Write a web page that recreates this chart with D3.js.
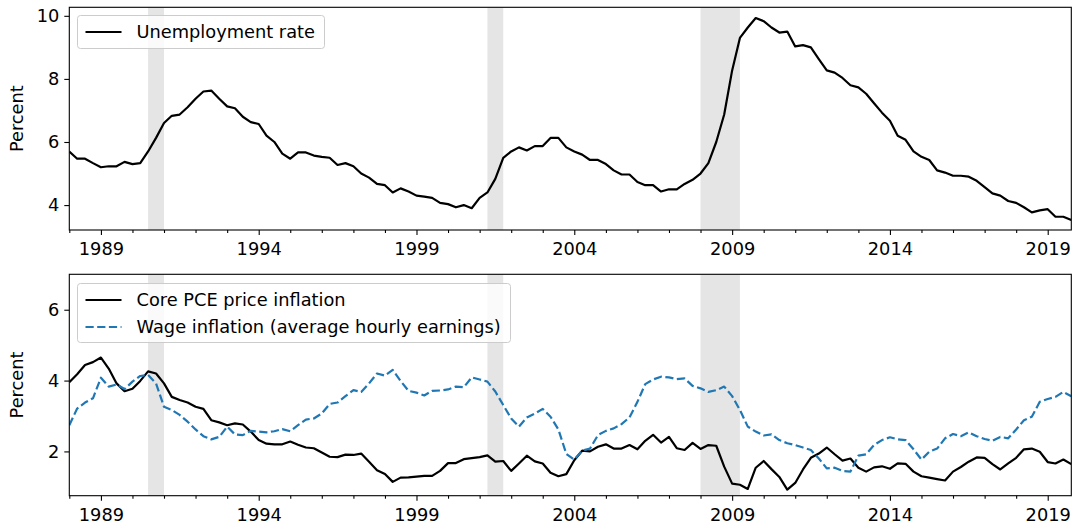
<!DOCTYPE html>
<html>
<head>
<meta charset="utf-8">
<script src="https://cdn.jsdelivr.net/npm/d3@7"></script>
<style>
  body { margin: 0; background: #fff; }
  svg { display: block; font-family: "DejaVu Sans", sans-serif; }
</style>
</head>
<body>
<svg id="chart" width="1076" height="529"></svg>
<script>
// quarterly data, 1988Q1 .. 2019Q4
var startYear = 1988;

var unemployment = [
  5.70, 5.47, 5.47, 5.33, 5.20, 5.23, 5.23, 5.37, 5.30, 5.33, 5.70, 6.13,
  6.60, 6.83, 6.87, 7.10, 7.37, 7.60, 7.63, 7.37, 7.13, 7.07, 6.80, 6.63,
  6.57, 6.20, 6.00, 5.63, 5.47, 5.67, 5.67, 5.57, 5.53, 5.50, 5.27, 5.33,
  5.23, 5.00, 4.87, 4.67, 4.63, 4.40, 4.53, 4.43, 4.30, 4.27, 4.23, 4.07,
  4.03, 3.93, 4.00, 3.90, 4.23, 4.40, 4.83, 5.50, 5.70, 5.83, 5.73, 5.87,
  5.87, 6.13, 6.13, 5.83, 5.70, 5.60, 5.43, 5.43, 5.30, 5.10, 4.97, 4.97,
  4.73, 4.63, 4.63, 4.43, 4.50, 4.50, 4.67, 4.80, 5.00, 5.33, 6.00, 6.87,
  8.27, 9.30, 9.63, 9.93, 9.83, 9.63, 9.47, 9.50, 9.03, 9.07, 9.00, 8.63,
  8.27, 8.20, 8.03, 7.80, 7.73, 7.53, 7.23, 6.93, 6.67, 6.20, 6.07, 5.70,
  5.53, 5.43, 5.10, 5.03, 4.93, 4.93, 4.90, 4.77, 4.57, 4.37, 4.30, 4.13,
  4.07, 3.93, 3.77, 3.83, 3.87, 3.63, 3.63, 3.53
];

var corePCE = [
  3.95, 4.18, 4.44, 4.52, 4.65, 4.34, 3.92, 3.70, 3.77, 3.99, 4.26, 4.20,
  3.92, 3.54, 3.45, 3.38, 3.26, 3.20, 2.88, 2.82, 2.74, 2.79, 2.76, 2.56,
  2.32, 2.22, 2.20, 2.20, 2.28, 2.19, 2.11, 2.09, 1.97, 1.85, 1.84, 1.91,
  1.90, 1.94, 1.71, 1.47, 1.36, 1.14, 1.26, 1.27, 1.29, 1.31, 1.31, 1.45,
  1.67, 1.67, 1.78, 1.81, 1.84, 1.89, 1.71, 1.73, 1.45, 1.66, 1.88, 1.72,
  1.66, 1.40, 1.30, 1.36, 1.75, 2.02, 2.00, 2.13, 2.20, 2.08, 2.08, 2.18,
  2.06, 2.30, 2.47, 2.25, 2.41, 2.09, 2.04, 2.24, 2.07, 2.18, 2.16, 1.57,
  1.09, 1.06, 0.94, 1.54, 1.73, 1.50, 1.28, 0.92, 1.11, 1.49, 1.82, 1.94,
  2.11, 1.92, 1.74, 1.80, 1.54, 1.43, 1.55, 1.58, 1.51, 1.66, 1.65, 1.43,
  1.30, 1.26, 1.22, 1.18, 1.43, 1.56, 1.71, 1.83, 1.82, 1.64, 1.49, 1.66,
  1.82, 2.06, 2.08, 1.99, 1.70, 1.66, 1.77, 1.64
];

var wages = [
  2.74, 3.21, 3.38, 3.50, 4.08, 3.83, 3.89, 3.76, 3.97, 4.13, 4.16, 3.92,
  3.26, 3.17, 3.03, 2.84, 2.62, 2.43, 2.34, 2.41, 2.70, 2.48, 2.46, 2.58,
  2.56, 2.54, 2.57, 2.63, 2.57, 2.74, 2.90, 2.93, 3.07, 3.34, 3.38, 3.56,
  3.73, 3.68, 3.92, 4.20, 4.14, 4.30, 3.99, 3.71, 3.66, 3.58, 3.71, 3.72,
  3.75, 3.83, 3.81, 4.09, 4.03, 3.97, 3.69, 3.31, 2.93, 2.70, 2.96, 3.07,
  3.20, 2.98, 2.62, 1.93, 1.77, 2.02, 2.08, 2.46, 2.58, 2.65, 2.77, 2.96,
  3.40, 3.90, 4.03, 4.11, 4.09, 4.04, 4.06, 3.85, 3.78, 3.68, 3.73, 3.83,
  3.56, 3.17, 2.70, 2.56, 2.45, 2.48, 2.32, 2.23, 2.18, 2.11, 2.04, 1.80,
  1.52, 1.54, 1.45, 1.43, 1.88, 1.92, 2.18, 2.32, 2.40, 2.34, 2.32, 2.06,
  1.77, 1.99, 2.08, 2.37, 2.49, 2.43, 2.54, 2.43, 2.35, 2.30, 2.41, 2.37,
  2.62, 2.88, 2.98, 3.40, 3.48, 3.54, 3.68, 3.56
];

var recessionStart = ["1990-07-01", "2001-04-01", "2008-01-01"];
var recessionEnd   = ["1991-01-01", "2001-10-01", "2009-04-01"];

var xTickYears = [1989, 1994, 1999, 2004, 2009, 2014, 2019];
var topTicks = [4, 6, 8, 10];
var bottomTicks = [2, 4, 6];

var quarters = unemployment.map(function(d, i){
  return new Date(startYear + Math.floor(i / 4), (i % 4) * 3, 1);
});

var parse = d3.timeParse("%Y-%m-%d");
var svg = d3.select("#chart");

var left = 69.3, right = 1071.3;
var fontSize = "17.8px";

var x = d3.scaleTime()
  .domain([new Date(1988, 0, 1), new Date(2019, 9, 1)])
  .range([left, right]);

function panel(top, bottom, yDomain, yTicks, series, legendBox, id){

  var y = d3.scaleLinear().domain(yDomain).range([bottom, top]);

  var g = svg.append("g");

  g.append("clipPath").attr("id", id)
    .append("rect")
      .attr("x", left).attr("y", top)
      .attr("width", right - left).attr("height", bottom - top);

  var plot = g.append("g").attr("clip-path", "url(#" + id + ")");

  plot.selectAll("rect.rec")
    .data(recessionStart)
    .enter().append("rect")
      .attr("class", "rec")
      .attr("x", function(d){ return x(parse(d)); })
      .attr("width", function(d, i){ return x(parse(recessionEnd[i])) - x(parse(d)); })
      .attr("y", top)
      .attr("height", bottom - top)
      .style("fill", "#e5e5e5");

  series.forEach(function(s){
    var line = d3.line()
      .x(function(d, i){ return x(quarters[i]); })
      .y(function(d){ return y(d); });

    plot.append("path")
      .datum(s.values)
      .attr("d", line)
      .style("fill", "none")
      .style("stroke", s.color)
      .style("stroke-width", 2.2)
      .style("stroke-dasharray", s.dash || null)
      .style("stroke-linejoin", "round");
  });

  // axes
  var xAxis = d3.axisBottom(x)
    .tickValues(xTickYears.map(function(yr){ return new Date(yr, 0, 1); }))
    .tickFormat(d3.timeFormat("%Y"))
    .tickSize(5)
    .tickPadding(6);

  var xMinor = d3.axisBottom(x)
    .tickValues(d3.range(1988, 2020).filter(function(yr){ return xTickYears.indexOf(yr) < 0; })
      .map(function(yr){ return new Date(yr, 0, 1); }))
    .tickFormat("")
    .tickSize(3);

  var gx = g.append("g").attr("transform", "translate(0," + bottom + ")").call(xAxis);
  var gm = g.append("g").attr("transform", "translate(0," + bottom + ")").call(xMinor);

  var gy = g.append("g").attr("transform", "translate(" + left + ",0)")
    .call(d3.axisLeft(y).tickValues(yTicks).tickFormat(d3.format("d")).tickSize(5).tickPadding(5));

  [gx, gm, gy].forEach(function(a){
    a.selectAll(".domain").remove();
    a.selectAll("line").style("stroke", "#000").style("stroke-width", 1.1);
    a.selectAll("text").style("font-size", fontSize).style("fill", "#000")
      .style("font-family", "DejaVu Sans");
  });
  gx.selectAll("text").attr("dy", "0.8em");

  g.append("rect")
    .attr("x", left).attr("y", top)
    .attr("width", right - left).attr("height", bottom - top)
    .style("fill", "none")
    .style("stroke", "#000")
    .style("stroke-width", 1.1);

  g.append("text")
    .attr("transform", "translate(17," + ((top + bottom) / 2) + ") rotate(-90)")
    .attr("text-anchor", "middle")
    .attr("dy", "0.35em")
    .style("font-size", fontSize)
    .text("Percent");

  // legend
  var lg = g.append("g");
  lg.append("rect")
    .attr("x", legendBox.x).attr("y", legendBox.y)
    .attr("width", legendBox.w).attr("height", legendBox.h)
    .attr("rx", 3)
    .style("fill", "#fff").style("fill-opacity", 0.8)
    .style("stroke", "#cccccc").style("stroke-width", 1);

  series.forEach(function(s, i){
    var ly = legendBox.y + 16.5 + i * 27;
    lg.append("line")
      .attr("x1", legendBox.x + 8).attr("x2", legendBox.x + 44)
      .attr("y1", ly).attr("y2", ly)
      .style("stroke", s.color)
      .style("stroke-width", 2.2)
      .style("stroke-dasharray", s.dash || null);
    lg.append("text")
      .attr("x", legendBox.x + 59).attr("y", ly)
      .attr("dy", "0.35em")
      .style("font-size", fontSize)
      .text(s.name);
  });
}

panel(7.3, 230, [3.21, 10.27], topTicks,
  [{name: "Unemployment rate", values: unemployment, color: "#000"}],
  {x: 77.5, y: 15.5, w: 247, h: 33}, "clipTop");

panel(274.3, 495.7, [0.75, 7.0], bottomTicks,
  [{name: "Core PCE price inflation", values: corePCE, color: "#000"},
   {name: "Wage inflation (average hourly earnings)", values: wages, color: "#1f77b4", dash: "8.2,3.5"}],
  {x: 77.5, y: 283.5, w: 433, h: 59}, "clipBottom");
</script>
</body>
</html>
